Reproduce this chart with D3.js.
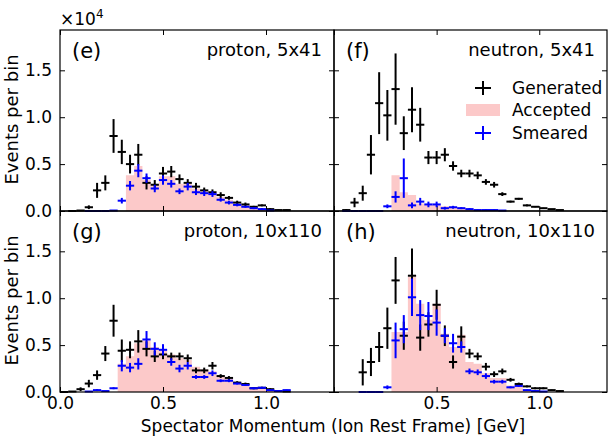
<!DOCTYPE html>
<html><head><meta charset="utf-8">
<script src="https://cdn.jsdelivr.net/npm/d3@7"></script>
<style>body{margin:0;background:#fff}svg{display:block}text{font-family:"DejaVu Sans",sans-serif}</style>
</head><body>
<script>
const binCenters = [0.02,0.06,0.10,0.14,0.18,0.22,0.26,0.30,0.34,0.38,0.42,0.46,0.50,0.54,0.58,0.62,0.66,0.70,0.74,0.78,0.82,0.86,0.90,0.94,0.98,1.02,1.06,1.10,1.14,1.18];
const binHalfWidth = 0.02;
const xTicks = [0.0, 0.5, 1.0];
const yTicks = [0.0, 0.5, 1.0, 1.5];
const panelLabels = ["(e)", "(f)", "(g)", "(h)"];
const panelTitles = ["proton, 5x41", "neutron, 5x41", "proton, 10x110", "neutron, 10x110"];
const legendLabels = ["Generated", "Accepted", "Smeared"];

// values in units of 10^4 events
const eGen    = [null,0,0.005,0.04,0.22,0.30,0.80,0.63,0.50,0.60,0.30,0.28,0.40,0.42,0.34,0.30,0.26,0.22,0.20,0.17,0.14,0.09,0.07,0.045,0.06,0.02,0.01,0.01,null,null];
const eGenErr = [0,0,0.005,0.02,0.08,0.08,0.18,0.13,0.10,0.115,0.07,0.05,0.07,0.06,0.05,0.04,0.04,0.03,0.03,0.03,0.02,0.02,0.02,0.01,0.01,0.01,0.005,0.005,0,0];
const eAcc    = [0,0,0,0,0,0,0,0,0.38,0.48,0.33,0.28,0.37,0.37,0.29,0.29,0.24,0.21,0.19,0.15,0.12,0.08,0.06,0.04,0.03,0.01,0,0,0,0];
const eSm     = [null,null,null,0,0,0,0.005,0.11,0.27,0.43,0.35,0.24,0.33,0.29,0.21,0.26,0.20,0.19,0.18,0.12,0.09,0.065,0.045,0.03,0.02,0.005,null,null,null,null];
const eSmErr  = [0,0,0,0,0,0,0,0.03,0.05,0.07,0.05,0.04,0.05,0.04,0.03,0.04,0.03,0.03,0.03,0.02,0.02,0.015,0.01,0.01,0.01,0,0,0,0,0];

const fGen    = [null,0.01,0.09,0.19,0.60,1.15,1.02,1.30,0.83,1.08,0.92,0.57,0.57,0.60,0.48,0.40,0.40,0.38,0.31,0.28,0.18,0.10,0.13,0.06,0.045,0.03,0.02,0.01,null,null];
const fGenErr = [0,0.01,0.05,0.08,0.21,0.33,0.27,0.38,0.18,0.24,0.18,0.07,0.07,0.07,0.05,0.04,0.04,0.04,0.03,0.03,0.02,0.01,0.01,0.01,0.005,0.005,0,0,0,0];
const fAcc    = [0,0,0,0,0,0,0,0.38,0.20,0.17,0.08,0.07,0.07,0.05,0.045,0.04,0.03,0.02,0.015,0.01,0.005,0,0,0,0,0,0,0,0,0];
const fSm     = [null,0,0,0,0,0,0.05,0.15,0.35,0.06,0.10,0.07,0.07,0.03,0.04,0.03,0.02,0.01,0.01,0.01,0.005,null,null,null,null,null,null,null,null,null];
const fSmErr  = [0,0,0,0,0,0,0.02,0.06,0.21,0.03,0.04,0.03,0.03,0.015,0.015,0.01,0.01,0.005,0.005,0.005,0,0,0,0,0,0,0,0,0,0];

const gGen    = [0,0.005,0.03,0.09,0.18,0.41,0.76,0.44,0.45,0.54,0.46,0.38,0.40,0.38,0.38,0.36,0.23,0.23,0.28,0.17,0.15,0.10,0.085,0.04,0.045,0.03,0.01,0.005,null,null];
const gGenErr = [0,0,0.02,0.04,0.05,0.08,0.17,0.12,0.09,0.12,0.08,0.06,0.05,0.04,0.04,0.04,0.03,0.03,0.04,0.02,0.02,0.015,0.015,0.01,0.01,0.01,0.005,0,0,0];
const gAcc    = [0,0,0,0,0,0,0,0.30,0.38,0.52,0.55,0.48,0.45,0.40,0.36,0.34,0.27,0.24,0.22,0.17,0.14,0.10,0.08,0.05,0.04,0.02,0.01,0,0,0];
const gSm     = [null,null,null,0.005,0.02,0.01,0.04,0.28,0.26,0.30,0.56,0.46,0.45,0.32,0.25,0.28,0.16,0.16,0.20,0.12,0.12,0.09,0.075,0.04,0.045,0.02,0.01,0.02,null,null];
const gSmErr  = [0,0,0,0,0.01,0,0.01,0.06,0.05,0.06,0.09,0.07,0.06,0.04,0.04,0.04,0.02,0.02,0.03,0.015,0.015,0.01,0.01,0.01,0.01,0.005,0.005,0.005,0,0];

const hGen    = [null,null,null,0.21,0.32,0.48,0.68,1.19,0.60,1.24,0.58,0.72,0.93,0.60,0.32,0.59,0.41,0.38,0.27,0.19,0.22,0.13,0.085,0.06,0.04,0.04,0.02,0.01,null,null];
const hGenErr = [0,0,0,0.14,0.15,0.16,0.22,0.25,0.15,0.29,0.14,0.13,0.16,0.11,0.07,0.11,0.05,0.04,0.04,0.03,0.03,0.02,0.015,0.01,0.01,0.01,0.005,0.005,0,0];
const hAcc    = [0,0,0,0,0,0,0,0.64,0.64,1.23,0.94,0.77,0.94,0.62,0.48,0.61,0.32,0.30,0.20,0.15,0.15,0.07,0.06,0.03,0.02,0.01,0,0,0,0];
const hSm     = [null,null,null,0,0,0,0.05,0.55,0.67,1.01,0.82,0.81,0.74,0.60,0.52,0.48,0.22,0.21,0.17,0.11,0.11,0.05,0.065,0.02,0.01,0.005,null,null,null,null];
const hSmErr  = [0,0,0,0,0,0,0.02,0.19,0.15,0.20,0.16,0.15,0.14,0.08,0.10,0.06,0.03,0.03,0.03,0.02,0.02,0.01,0.01,0.005,0.005,0,0,0,0,0];

const panels = [
  {gen:eGen, genErr:eGenErr, acc:eAcc, sm:eSm, smErr:eSmErr},
  {gen:fGen, genErr:fGenErr, acc:fAcc, sm:fSm, smErr:fSmErr},
  {gen:gGen, genErr:gGenErr, acc:gAcc, sm:gSm, smErr:gSmErr},
  {gen:hGen, genErr:hGenErr, acc:hAcc, sm:hSm, smErr:hSmErr}
];

const W = 611, H = 436;
const colX = [[60,334],[334,607]];
const rowY = [[30,211],[211,392]];
const xDomain = [0, 1.33];
const yDomain = [0, 1.93];
const pink = "#fcc9c9";

const svg = d3.select("body").append("svg").attr("width", W).attr("height", H);

panels.forEach((p, k) => {
  const col = k % 2, row = Math.floor(k / 2);
  const x = d3.scaleLinear().domain(xDomain).range(colX[col]);
  const y = d3.scaleLinear().domain(yDomain).range([rowY[row][1], rowY[row][0]]);
  const g = svg.append("g");

  // accepted: step-filled histogram
  const edges = [];
  binCenters.forEach((c, i) => {
    edges.push({x: c - binHalfWidth, v: p.acc[i]});
    edges.push({x: c + binHalfWidth, v: p.acc[i]});
  });
  g.append("path")
    .datum(edges)
    .attr("fill", pink)
    .attr("d", d3.area().x(d => x(d.x)).y0(y(0)).y1(d => y(d.v)));

  // axes with inward ticks
  const axB = d3.axisBottom(x).tickValues(xTicks).tickSize(-5).tickPadding(5).tickFormat(d3.format(".1f"));
  const axT = d3.axisTop(x).tickValues(xTicks).tickSize(-5).tickFormat("");
  const axL = d3.axisLeft(y).tickValues(yTicks).tickSize(-5).tickPadding(8).tickFormat(d3.format(".1f"));
  const axR = d3.axisRight(y).tickValues(yTicks).tickSize(-5).tickFormat("");

  const gb = g.append("g").attr("transform", `translate(0,${rowY[row][1]})`).call(axB);
  const gt = g.append("g").attr("transform", `translate(0,${rowY[row][0]})`).call(axT);
  const gl = g.append("g").attr("transform", `translate(${colX[col][0]},0)`).call(axL);
  const gr = g.append("g").attr("transform", `translate(${colX[col][1]},0)`).call(axR);
  [gb, gt, gl, gr].forEach(a => {
    a.select(".domain").remove();
    a.selectAll("line").attr("stroke", "#000").attr("stroke-width", 1);
    a.selectAll("text").attr("font-size", 17).attr("fill", "#000").attr("font-family", "DejaVu Sans");
  });
  if (row === 0) gb.selectAll("text").remove();
  if (col === 1) { gl.selectAll("text").remove(); gb.selectAll("text").filter(d => d === 0).remove(); }

  // error-bar crosses
  function crosses(vals, errs, color) {
    const idx = binCenters.map((c, i) => i).filter(i => vals[i] !== null);
    const gg = g.append("g").attr("stroke", color).attr("stroke-width", 2).attr("fill", "none");
    gg.selectAll("line.h").data(idx).join("line").attr("class", "h")
      .attr("x1", i => x(binCenters[i] - binHalfWidth)).attr("x2", i => x(binCenters[i] + binHalfWidth))
      .attr("y1", i => y(vals[i])).attr("y2", i => y(vals[i]));
    gg.selectAll("line.v").data(idx.filter(i => errs[i] > 0)).join("line").attr("class", "v")
      .attr("x1", i => x(binCenters[i])).attr("x2", i => x(binCenters[i]))
      .attr("y1", i => y(Math.max(0, vals[i] - errs[i]))).attr("y2", i => y(vals[i] + errs[i]));
  }
  crosses(p.gen, p.genErr, "#000");
  crosses(p.sm, p.smErr, "#0000ff");

  // frame
  g.append("rect").attr("x", colX[col][0]).attr("y", rowY[row][0])
    .attr("width", colX[col][1] - colX[col][0]).attr("height", rowY[row][1] - rowY[row][0])
    .attr("fill", "none").attr("stroke", "#000").attr("stroke-width", 1.2);

  // labels
  g.append("text").attr("x", colX[col][0] + 12).attr("y", rowY[row][0] + 28)
    .attr("font-size", 21).text(panelLabels[k]);
  g.append("text").attr("x", colX[col][1] - 12).attr("y", rowY[row][0] + 26)
    .attr("text-anchor", "end").attr("font-size", 18).text(panelTitles[k]);
});

// legend in panel (f)
const lg = svg.append("g");
const legX = 483, legTextX = 512, legY = [88, 110, 133];
lg.append("line").attr("x1", legX).attr("x2", legX).attr("y1", legY[0]-7).attr("y2", legY[0]+7).attr("stroke", "#000").attr("stroke-width", 2);
lg.append("line").attr("x1", legX-8).attr("x2", legX+8).attr("y1", legY[0]).attr("y2", legY[0]).attr("stroke", "#000").attr("stroke-width", 2);
lg.append("rect").attr("x", 466).attr("y", legY[1]-6).attr("width", 34).attr("height", 12).attr("fill", pink);
lg.append("line").attr("x1", legX).attr("x2", legX).attr("y1", legY[2]-7).attr("y2", legY[2]+7).attr("stroke", "#0000ff").attr("stroke-width", 2);
lg.append("line").attr("x1", legX-8).attr("x2", legX+8).attr("y1", legY[2]).attr("y2", legY[2]).attr("stroke", "#0000ff").attr("stroke-width", 2);
legendLabels.forEach((t, i) => {
  lg.append("text").attr("x", legTextX).attr("y", legY[i] + 6).attr("font-size", 17).text(t);
});

// multiplier
const mult = svg.append("text").attr("x", 60).attr("y", 25).attr("font-size", 17);
mult.append("tspan").text("×10");
mult.append("tspan").attr("dy", -7).attr("font-size", 12).text("4");

// y labels
[0, 1].forEach(r => {
  svg.append("text").attr("transform", `translate(18,${(rowY[r][0] + rowY[r][1]) / 2 - 1}) rotate(-90)`)
    .attr("text-anchor", "middle").attr("font-size", 18).text("Events per bin");
});
// x label
svg.append("text").attr("x", 333).attr("y", 431.5).attr("text-anchor", "middle").attr("font-size", 17)
  .text("Spectator Momentum (Ion Rest Frame) [GeV]");
</script>
</body></html>
